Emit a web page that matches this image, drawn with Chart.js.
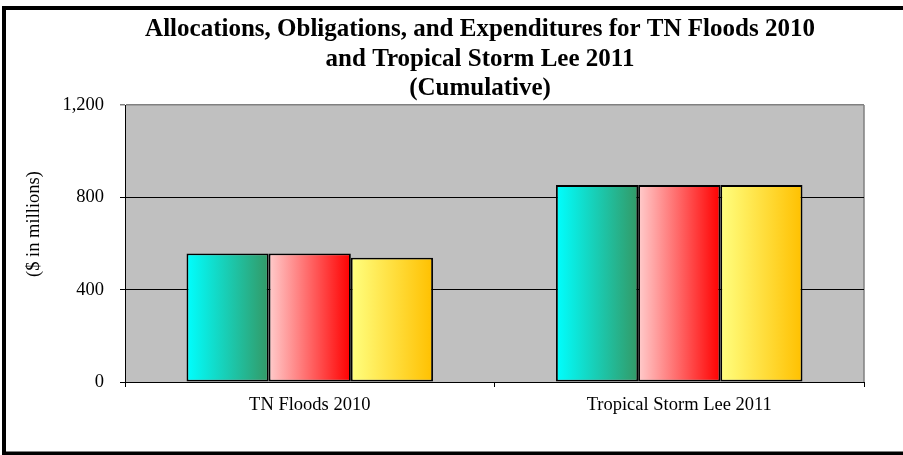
<!DOCTYPE html>
<html>
<head>
<meta charset="utf-8">
<script src="https://cdn.jsdelivr.net/npm/chart.js@4.4.0/dist/chart.umd.min.js"></script>
<style>
html,body{margin:0;padding:0;background:#fff;}
#wrap{width:903px;height:455px;position:relative;}
</style>
</head>
<body>
<div id="wrap"><canvas id="c" width="903" height="455"></canvas></div>
<script>
const categories = ["TN Floods 2010", "Tropical Storm Lee 2011"];
const seriesNames = ["Allocations", "Obligations", "Expenditures"];
const allocations = [557, 853];
const obligations = [557, 853];
const expenditures = [538, 853];
const yTicks = [0, 400, 800, 1200];
const titleLines = ["Allocations, Obligations, and Expenditures for TN Floods 2010", "and Tropical Storm Lee 2011", "(Cumulative)"];
const yTitle = "($ in millions)";

const gradStops = [
  ["#00FFFF", "#339966"],
  ["#FFCCCC", "#FF0000"],
  ["#FFFF80", "#FFC000"]
];
const CAT_PCT = 0.667;
const FONT = "'Liberation Serif', 'Times New Roman', serif";

function barGradient(ctx) {
  const chart = ctx.chart;
  const ds = ctx.datasetIndex;
  const fallback = gradStops[ds][0];
  if (!chart.chartArea || !chart.scales.x) return fallback;
  const xs = chart.scales.x;
  const catW = xs.width / categories.length;
  const groupW = catW * CAT_PCT;
  const barW = groupW / seriesNames.length;
  const center = xs.getPixelForValue(ctx.dataIndex);
  const left = center - groupW / 2 + ds * barW;
  const g = chart.ctx.createLinearGradient(left, 0, left + barW, 0);
  g.addColorStop(0, gradStops[ds][0]);
  g.addColorStop(1, gradStops[ds][1]);
  return g;
}

const decor = {
  id: 'decor',
  beforeDraw(chart) {
    const {ctx, chartArea: a} = chart;
    ctx.save();
    ctx.fillStyle = '#C0C0C0';
    ctx.fillRect(a.left, a.top, a.right - a.left, a.bottom - a.top);
    ctx.strokeStyle = '#808080';
    ctx.lineWidth = 1.5;
    ctx.beginPath();
    ctx.moveTo(a.right, a.top);
    ctx.lineTo(a.right, a.bottom);
    ctx.stroke();
    ctx.restore();
  },
  afterDraw(chart) {
    const ctx = chart.ctx;
    ctx.save();
    ctx.fillStyle = '#000';
    ctx.font = "bold 25px " + FONT;
    ctx.textAlign = 'center';
    ctx.textBaseline = 'alphabetic';
    const baselines = [36, 65.5, 95];
    titleLines.forEach((t, i) => ctx.fillText(t, 480, baselines[i]));
    ctx.font = "18.5px " + FONT;
    ctx.translate(34, 224);
    ctx.rotate(-Math.PI / 2);
    ctx.textBaseline = 'middle';
    ctx.fillText(yTitle, 0, 0);
    ctx.restore();
    ctx.save();
    ctx.strokeStyle = '#000';
    ctx.lineWidth = 4;
    ctx.strokeRect(4, 8, 1000, 445.5);
    ctx.restore();
  }
};

const datasets = [allocations, obligations, expenditures].map((d, i) => ({
  label: seriesNames[i],
  data: d,
  backgroundColor: barGradient,
  borderColor: '#000',
  borderWidth: 1.8,
  borderSkipped: false,
  categoryPercentage: CAT_PCT,
  barPercentage: 1.0
}));

new Chart(document.getElementById('c'), {
  type: 'bar',
  data: { labels: categories, datasets },
  plugins: [decor],
  options: {
    responsive: false,
    animation: false,
    devicePixelRatio: 1,
    layout: { padding: { top: 105, right: 39, left: 0, bottom: 0 } },
    plugins: { legend: { display: false }, title: { display: false }, tooltip: { enabled: false } },
    scales: {
      x: {
        afterFit(s) { s.height = 73; },
        grid: { offset: true, drawOnChartArea: false, drawTicks: true, tickLength: 5, color: '#000', lineWidth: 1 },
        border: { display: true, color: '#000', width: 1 },
        ticks: { color: '#000', padding: 7, font: { family: FONT, size: 18.5 } }
      },
      y: {
        min: 0, max: 1200,
        afterFit(s) { s.width = 125; },
        afterBuildTicks(s) { s.ticks = yTicks.map(v => ({ value: v })); },
        grid: {
          color: (c) => (c.tick && c.tick.value === 1200) ? '#808080' : '#000',
          lineWidth: (c) => (c.tick && c.tick.value === 1200) ? 1.5 : 1,
          tickLength: 5, drawTicks: true
        },
        border: { display: true, color: '#000', width: 1 },
        ticks: {
          color: '#000', padding: 16,
          font: { family: FONT, size: 18.5 },
          callback: (v) => Number(v).toLocaleString('en-US')
        }
      }
    }
  }
});
</script>
</body>
</html>
